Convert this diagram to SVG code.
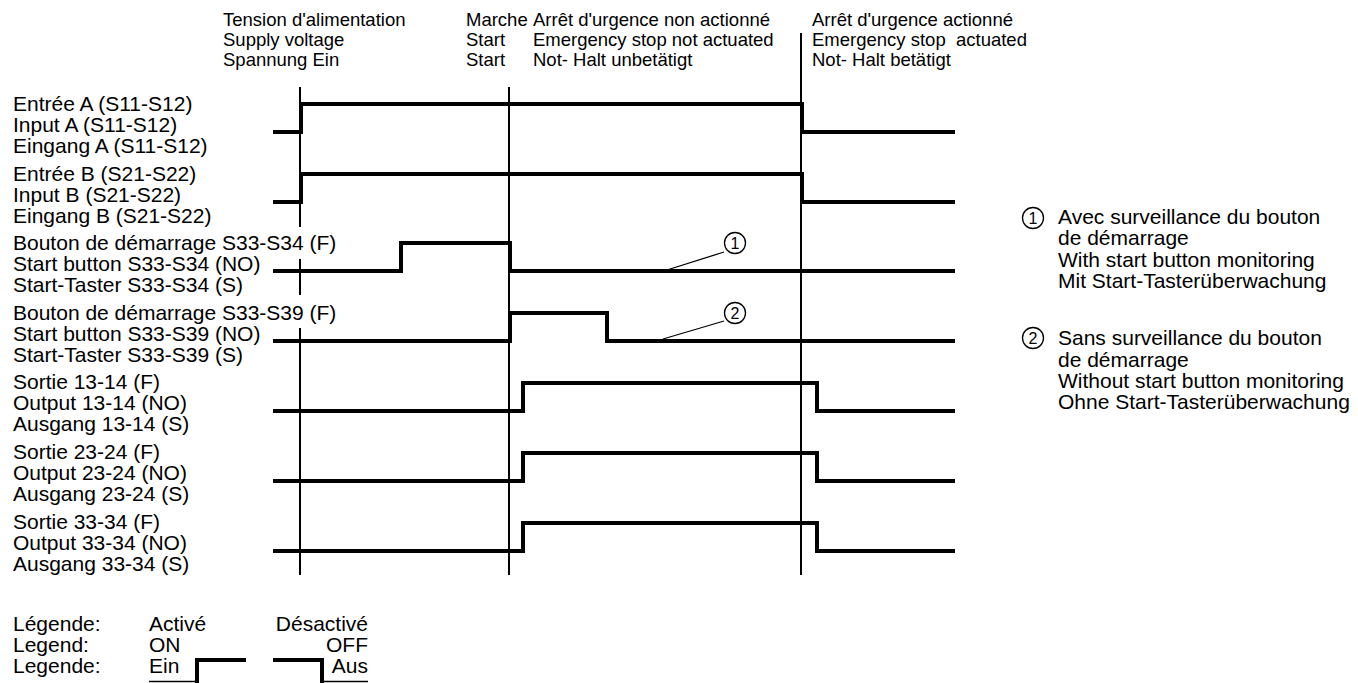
<svg xmlns="http://www.w3.org/2000/svg" width="1358" height="683" viewBox="0 0 1358 683">
<style>
text{font-family:"Liberation Sans",Arial,sans-serif;fill:#000}
.h{font-size:18.5px}
.l{font-size:21px}
.sig{fill:none;stroke:#000;stroke-width:4;stroke-linejoin:miter;stroke-linecap:butt}
.vl{stroke:#000;stroke-width:2;fill:none}
.thin{stroke:#000;stroke-width:1.3;fill:none}
.c{fill:#fff;stroke:#000;stroke-width:1.3}
.d{font-size:16px;text-anchor:middle}
</style>
<rect width="1358" height="683" fill="#fff"/>
<g id="header">
<text class="h" x="223" y="26">Tension d'alimentation</text>
<text class="h" x="223" y="46">Supply voltage</text>
<text class="h" x="223" y="66">Spannung Ein</text>
<text class="h" x="466" y="26">Marche</text>
<text class="h" x="466" y="46">Start</text>
<text class="h" x="466" y="66">Start</text>
<text class="h" x="533" y="26">Arrêt d'urgence non actionné</text>
<text class="h" x="533" y="46">Emergency stop not actuated</text>
<text class="h" x="533" y="66">Not- Halt unbetätigt</text>
<text class="h" x="812" y="26">Arrêt d'urgence actionné</text>
<text class="h" x="812" y="46">Emergency stop&#160; actuated</text>
<text class="h" x="812" y="66">Not- Halt betätigt</text>
</g>
<g id="markers">
<path class="vl" d="M300,87 V227 M300,259 V295 M300,328 V575"/>
<path class="vl" d="M509,87 V575"/>
<path class="vl" d="M801,33 V575"/>
</g>
<g id="inputA">
<text class="l" x="13" y="111">Entrée A (S11-S12)</text>
<text class="l" x="13" y="132">Input A (S11-S12)</text>
<text class="l" x="13" y="153">Eingang A (S11-S12)</text>
<path class="sig" d="M273,132 H301 V104 H802 V132 H955"/>
</g>
<g id="inputB">
<text class="l" x="13" y="181">Entrée B (S21-S22)</text>
<text class="l" x="13" y="202">Input B (S21-S22)</text>
<text class="l" x="13" y="223">Eingang B (S21-S22)</text>
<path class="sig" d="M273,202 H301 V174 H802 V202 H955"/>
</g>
<g id="startS34">
<text class="l" x="13" y="250">Bouton de démarrage S33-S34 (F)</text>
<text class="l" x="13" y="271">Start button S33-S34 (NO)</text>
<text class="l" x="13" y="292">Start-Taster S33-S34 (S)</text>
<path class="sig" d="M273,271 H401 V243 H510 V271 H955"/>
</g>
<g id="startS39">
<text class="l" x="13" y="320">Bouton de démarrage S33-S39 (F)</text>
<text class="l" x="13" y="341">Start button S33-S39 (NO)</text>
<text class="l" x="13" y="362">Start-Taster S33-S39 (S)</text>
<path class="sig" d="M273,341 H510 V313 H607 V341 H955"/>
</g>
<g id="out1314">
<text class="l" x="13" y="389">Sortie 13-14 (F)</text>
<text class="l" x="13" y="410">Output 13-14 (NO)</text>
<text class="l" x="13" y="431">Ausgang 13-14 (S)</text>
<path class="sig" d="M273,411 H523 V383 H817 V411 H955"/>
</g>
<g id="out2324">
<text class="l" x="13" y="459">Sortie 23-24 (F)</text>
<text class="l" x="13" y="480">Output 23-24 (NO)</text>
<text class="l" x="13" y="501">Ausgang 23-24 (S)</text>
<path class="sig" d="M273,481 H523 V453 H817 V481 H955"/>
</g>
<g id="out3334">
<text class="l" x="13" y="529">Sortie 33-34 (F)</text>
<text class="l" x="13" y="550">Output 33-34 (NO)</text>
<text class="l" x="13" y="571">Ausgang 33-34 (S)</text>
<path class="sig" d="M273,551 H523 V523 H817 V551 H955"/>
</g>
<g id="connectors">
<line class="thin" x1="667" y1="270" x2="724" y2="252"/>
<line class="thin" x1="663" y1="339" x2="724" y2="321"/>
</g>
<g id="callout1">
<circle class="c" cx="735" cy="243" r="10.5"/>
<text class="d" x="735" y="249">1</text>
</g>
<g id="callout2">
<circle class="c" cx="735" cy="313" r="10.5"/>
<text class="d" x="735" y="319">2</text>
</g>
<g id="note1">
<circle class="c" cx="1033" cy="218" r="10.5"/>
<text class="d" x="1033" y="224">1</text>
<text class="l" x="1058" y="224">Avec surveillance du bouton</text>
<text class="l" x="1058" y="245">de démarrage</text>
<text class="l" x="1058" y="267">With start button monitoring</text>
<text class="l" x="1058" y="288">Mit Start-Tasterüberwachung</text>
</g>
<g id="note2">
<circle class="c" cx="1033" cy="338" r="10.5"/>
<text class="d" x="1033" y="344">2</text>
<text class="l" x="1058" y="345">Sans surveillance du bouton</text>
<text class="l" x="1058" y="367">de démarrage</text>
<text class="l" x="1058" y="388">Without start button monitoring</text>
<text class="l" x="1058" y="409">Ohne Start-Tasterüberwachung</text>
</g>
<g id="legend">
<text class="l" x="13" y="631">Légende:</text>
<text class="l" x="13" y="652">Legend:</text>
<text class="l" x="13" y="673">Legende:</text>
<text class="l" x="149" y="631">Activé</text>
<text class="l" x="149" y="652">ON</text>
<text class="l" x="149" y="673">Ein</text>
<text class="l" x="368" y="631" text-anchor="end">Désactivé</text>
<text class="l" x="368" y="652" text-anchor="end">OFF</text>
<text class="l" x="368" y="673" text-anchor="end">Aus</text>
<line class="thin" x1="149" y1="681.5" x2="197" y2="681.5"/>
<path class="sig" d="M197,683 V660 H246"/>
<path class="sig" d="M273,660 H322 V683"/>
<line class="thin" x1="322" y1="681.5" x2="368" y2="681.5"/>
</g>
</svg>
